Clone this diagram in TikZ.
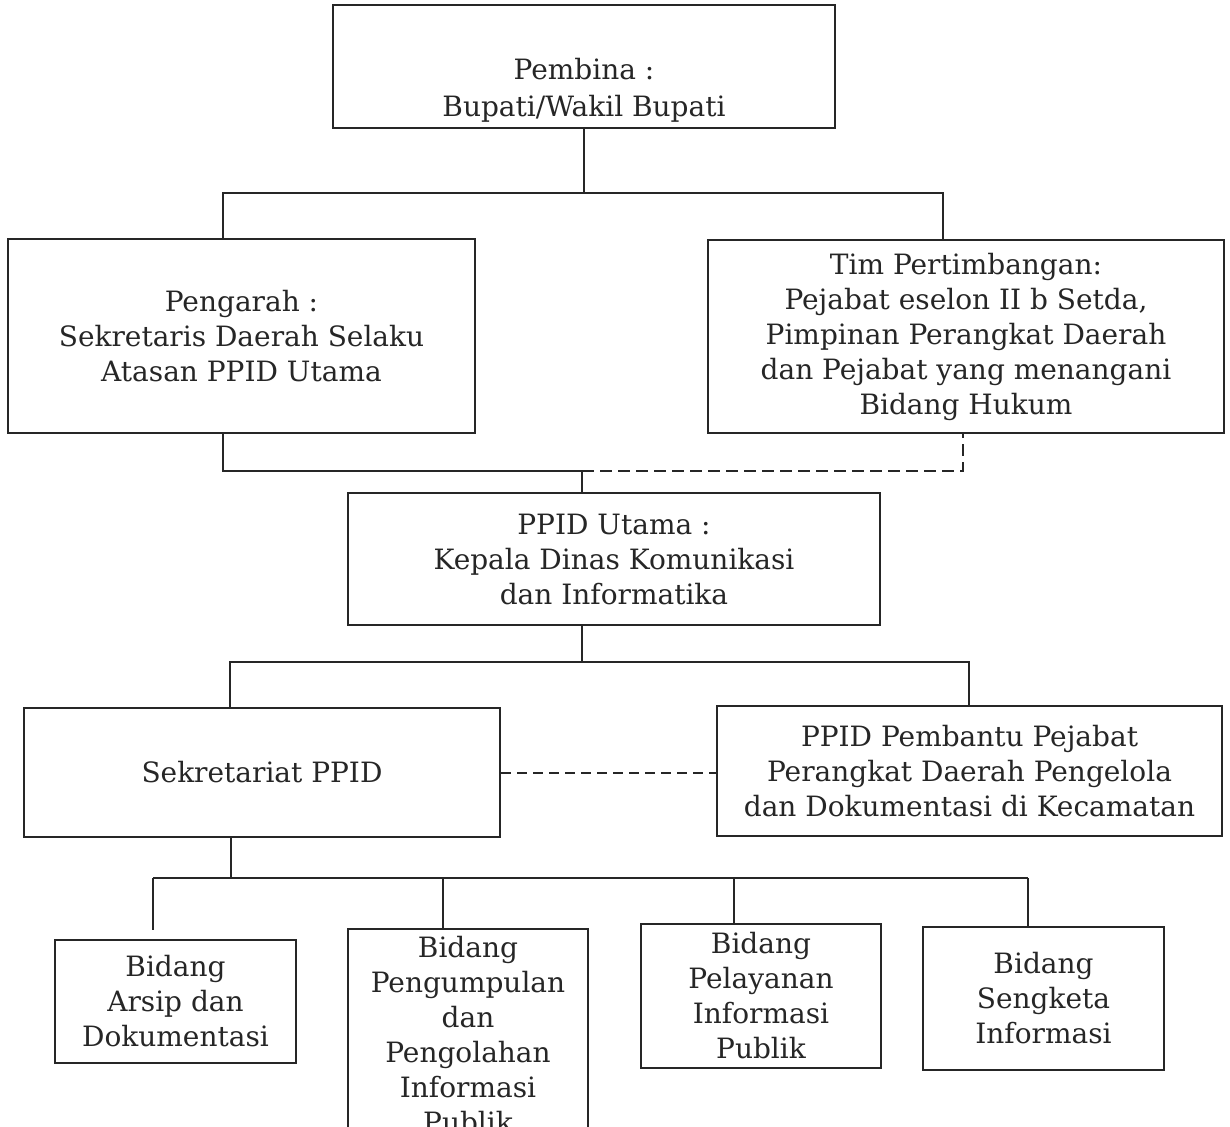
\documentclass[tikz,border=0pt]{standalone}
\usepackage{fontspec}
\setmainfont{DejaVu Serif}
\begin{document}
\begin{tikzpicture}[x=0.5pt,y=-0.5pt,
  box/.style={draw=black!85, line width=1.1pt, rectangle, inner sep=0pt, align=center,
    font=\fontsize{14pt}{17.5pt}\selectfont, text=black!85},
  txt/.style={inner sep=0pt, align=center, font=\fontsize{14pt}{18.5pt}\selectfont, text=black!85},
  link/.style={draw=black!85, line width=1.1pt},
  dlink/.style={draw=black!85, line width=1.1pt, dash pattern=on 6pt off 3pt},
  dlink2/.style={draw=black!85, line width=1pt, dash pattern=on 5pt off 3pt}]
\useasboundingbox (0,0) rectangle (1230,1127);
\clip (0,0) rectangle (1230,1127);

% boxes
\node[box, minimum width=502pt*0.5, minimum height=123pt*0.5] (pembina) at (584,66.5) {};
\node[txt] (pembinatext) at (584,90) {Pembina :\\Bupati/Wakil Bupati};
\node[box, minimum width=233.5pt, minimum height=97pt] (pengarah) at (241.5,336)
  {Pengarah :\\Sekretaris Daerah Selaku\\Atasan PPID Utama};
\node[box, minimum width=258pt, minimum height=96.5pt] (tim) at (966,336.5)
  {Tim Pertimbangan:\\Pejabat eselon II b Setda,\\Pimpinan Perangkat Daerah\\dan Pejabat yang menangani\\Bidang Hukum};
\node[box, minimum width=266pt, minimum height=66pt] (utama) at (614,559)
  {PPID Utama :\\Kepala Dinas Komunikasi\\dan Informatika};
\node[box, minimum width=238pt, minimum height=64.5pt] (sek) at (262,772.5)
  {Sekretariat PPID};
\node[box, minimum width=252.5pt, minimum height=65pt] (pemb) at (969.5,771)
  {PPID Pembantu Pejabat\\Perangkat Daerah Pengelola\\dan Dokumentasi di Kecamatan};
\node[box, minimum width=120.5pt, minimum height=61.5pt] (b1) at (175.5,1001.5)
  {Bidang\\Arsip dan\\Dokumentasi};
\node[box, minimum width=120pt, minimum height=106pt] (b2) at (468,1035)
  {Bidang\\Pengumpulan\\dan\\Pengolahan\\Informasi\\Publik};
\node[box, minimum width=120pt, minimum height=72pt] (b3) at (761,996)
  {Bidang\\Pelayanan\\Informasi\\Publik};
\node[box, minimum width=120.5pt, minimum height=71.5pt] (b4) at (1043.5,998.5)
  {Bidang\\Sengketa\\Informasi};

% top bus
\coordinate (tl) at (223,193);
\coordinate (tr) at (943,193);
\draw[link] (pembina.south) -- (pembina.south |- tl);
\draw[link] (tl |- pengarah.north) -- (tl) -- (tr) -- (tr |- tim.north);

% middle bus
\coordinate (ml) at (223,471);
\coordinate (mj) at (582,471);
\coordinate (mr) at (963,471);
\draw[link] (ml |- pengarah.south) -- (ml) -- (mj) -- (mj |- utama.north);
\draw[dlink] (mj) -- (mr) -- (mr |- tim.south);

% second bus
\coordinate (sj) at (582,662);
\coordinate (sl) at (230,662);
\coordinate (sr) at (969,662);
\draw[link] (sj |- utama.south) -- (sj);
\draw[link] (sl |- sek.north) -- (sl) -- (sr) -- (sr |- pemb.north);
\draw[dlink2] (sek.east) -- (sek.east -| pemb.west);

% bottom bus
\coordinate (bj) at (231,878);
\coordinate (c1) at (153,878);
\coordinate (c2) at (443,878);
\coordinate (c3) at (734,878);
\coordinate (c4) at (1028,878);
\coordinate (e1) at (153,930);
\draw[link] (bj |- sek.south) -- (bj);
\draw[link] (c1) -- (c4);
\draw[link] (c1) -- (e1);
\draw[link] (c2) -- (c2 |- b2.north);
\draw[link] (c3) -- (c3 |- b3.north);
\draw[link] (c4) -- (c4 |- b4.north);
\end{tikzpicture}
\end{document}
